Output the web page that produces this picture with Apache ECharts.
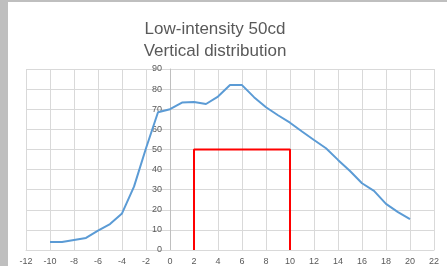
<!DOCTYPE html>
<html>
<head>
<meta charset="utf-8">
<script src="https://cdn.jsdelivr.net/npm/echarts@6/dist/echarts.min.js"></script>
<style>
  html, body { margin: 0; padding: 0; background: #bfbfbf; }
  #chart { position: absolute; left: 8px; top: 2px; width: 439px; height: 264px; background: #fff; }
</style>
</head>
<body>
<div id="chart"></div>
<script>
// 数据
var angles = [-10, -9, -8, -7, -6, -5, -4, -3, -2, -1, 0, 1, 2, 3, 4, 5, 6, 7, 8, 9, 10, 11, 12, 13, 14, 15, 16, 17, 18, 19, 20];
var intensity = [4, 4, 5, 6, 9.6, 12.9, 18.2, 31.5, 50.6, 68.5, 70, 73.3, 73.6, 72.6, 76.3, 82, 82, 76, 71, 67, 63.3, 58.9, 54.7, 50.6, 44.8, 39.3, 33.2, 29.4, 22.9, 18.8, 15.3];
var limitX = [2, 2, 10, 10];
var limitY = [0, 50, 50, 0];

var zip = function(xs, ys) {
  return xs.map(function(x, i) { return [x, ys[i]]; });
};

// 网格
var gridLeft = 18, gridRight = 13;
var chartWidth = 439;
var xMin = -12, xMax = 22;
// y 轴放在 x=0 的位置
var yAxisShift = (0 - xMin) / (xMax - xMin) * (chartWidth - gridLeft - gridRight);

var myChart = echarts.init(document.getElementById('chart'));
var labelStyle = { color: '#595959', fontSize: 9, fontFamily: 'Liberation Sans' };
var option = {
  animation: false,
  title: {
    text: 'Low-intensity 50cd\nVertical distribution',
    left: 202,
    top: 11,
    textAlign: 'center',
    textStyle: {
      color: '#595959',
      fontSize: 17,
      fontWeight: 'normal',
      lineHeight: 22,
      fontFamily: 'Liberation Sans'
    }
  },
  grid: { left: gridLeft, right: gridRight, top: 67, bottom: 16 },
  xAxis: {
    type: 'value',
    min: xMin,
    max: xMax,
    interval: 2,
    axisLine: { lineStyle: { color: '#d9d9d9' } },
    axisTick: { show: false },
    axisLabel: Object.assign({ margin: 7 }, labelStyle),
    splitLine: { lineStyle: { color: '#d9d9d9' } }
  },
  yAxis: {
    type: 'value',
    min: 0,
    max: 90,
    interval: 10,
    offset: -yAxisShift,
    axisLine: { show: true, onZero: false, lineStyle: { color: '#bfbfbf' } },
    axisTick: { show: false },
    axisLabel: Object.assign({ margin: 8 }, labelStyle),
    splitLine: { lineStyle: { color: '#d9d9d9' } }
  },
  series: [
    {
      type: 'line',
      data: zip(angles, intensity),
      showSymbol: false,
      lineStyle: { color: '#5b9bd5', width: 2 }
    },
    {
      type: 'line',
      data: zip(limitX, limitY),
      showSymbol: false,
      lineStyle: { color: '#ff0000', width: 2 }
    }
  ]
};
myChart.setOption(option);
</script>
</body>
</html>
